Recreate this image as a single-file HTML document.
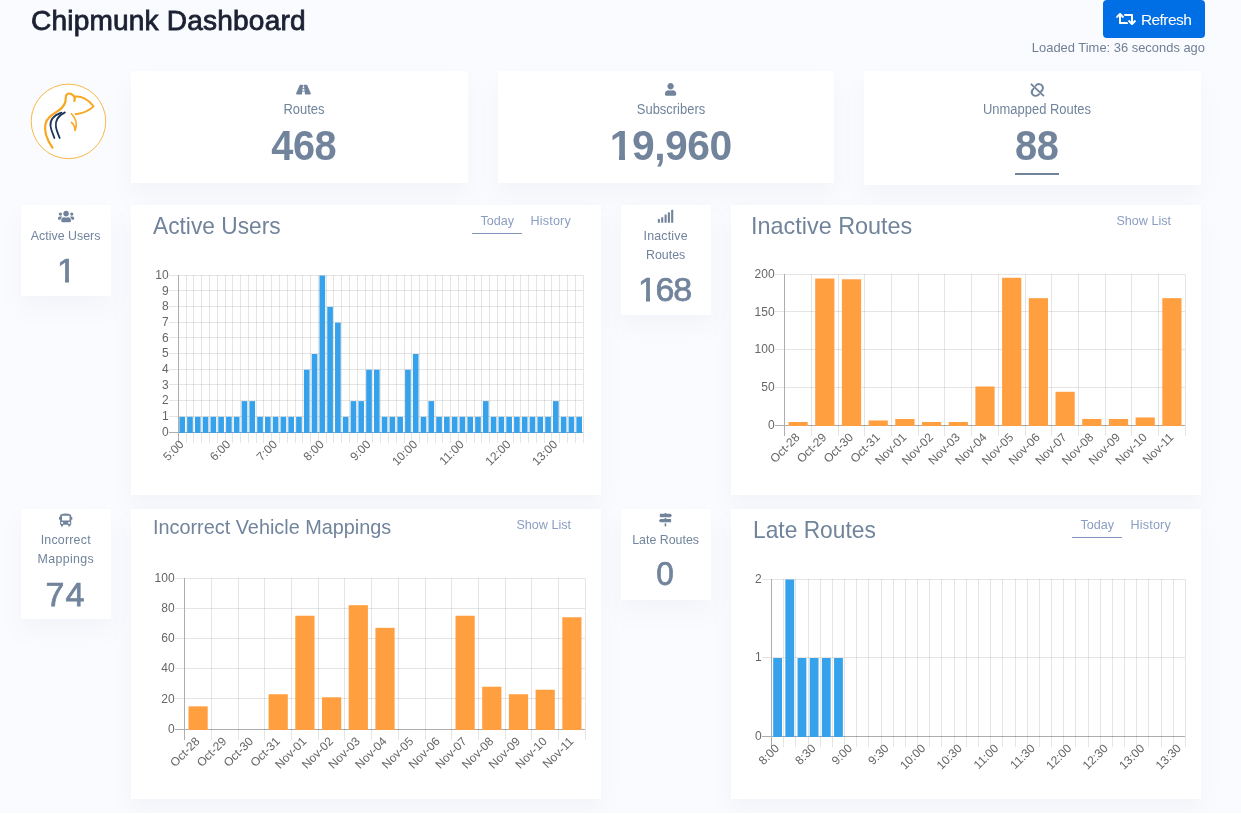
<!DOCTYPE html>
<html lang="en"><head><meta charset="utf-8"><title>Chipmunk Dashboard</title>
<style>
html,body{margin:0;padding:0}
body{width:1241px;height:814px;overflow:hidden;background:#fafbfe;font-family:"Liberation Sans", sans-serif;position:relative}
.card{position:absolute;background:#fff;box-shadow:0 12px 22px 0 rgba(120,132,165,.055)}
.t{position:absolute}
.ic{position:absolute;overflow:visible}
svg text{font-family:"Liberation Sans", sans-serif}
.btn{position:absolute;left:1103px;top:0;width:101.5px;height:38px;background:#006fe6;border-radius:4px}
</style></head><body>

<div class="t" style="position:absolute;top:7.41px;font-size:28.1px;line-height:1;color:#1b2033;white-space:nowrap;letter-spacing:0.17px;left:31.00px;-webkit-text-stroke:0.8px #1b2033;">Chipmunk Dashboard</div>
<div class="btn"></div>
<div class="t" style="position:absolute;top:12.18px;font-size:15.5px;line-height:1;color:#fff;white-space:nowrap;letter-spacing:-0.55px;left:1140.90px;">Refresh</div>
<svg class="ic" style="left:1116px;top:11px" width="20" height="16" viewBox="0 0 640 512"><path fill="#fff" d="M629.657 343.598L528.971 444.284c-9.373 9.372-24.568 9.372-33.941 0L394.343 343.598c-9.373-9.373-9.373-24.569 0-33.941l10.823-10.823c9.562-9.562 25.133-9.340 34.419.492L480 342.118V160H292.451a24.005 24.005 0 0 1-16.971-7.029l-16-16C244.361 121.851 255.069 96 276.451 96H520c13.255 0 24 10.745 24 24v222.118l40.416-42.792c9.285-9.831 24.856-10.054 34.419-.492l10.823 10.823c9.372 9.372 9.372 24.569-.001 33.941zm-265.138 15.431A23.999 23.999 0 0 0 347.548 352H160V169.881l40.416 42.792c9.286 9.831 24.856 10.054 34.419.491l10.822-10.822c9.373-9.373 9.373-24.569 0-33.941L144.971 67.716c-9.373-9.373-24.569-9.373-33.941 0L10.343 168.402c-9.373 9.373-9.373 24.569 0 33.941l10.822 10.822c9.562 9.562 25.133 9.340 34.419-.491L96 169.881V392c0 13.255 10.745 24 24 24h243.549c21.382 0 32.090-25.851 16.971-40.971l-16.001-16z"/></svg>
<div class="t" style="position:absolute;top:42.05px;font-size:12.93px;line-height:1;color:#6f7f95;white-space:nowrap;left:605.00px;width:600px;text-align:right;">Loaded Time: 36 seconds ago</div>
<svg class="ic" style="left:20px;top:75px" width="100" height="95" viewBox="0 0 857 814">
<circle cx="415.500" cy="397.500" r="319.500" fill="#fff" stroke="#f6a823" stroke-width="7"/>
<path d="M278 622 C235 560 205 480 218 420 C232 362 285 335 330 305 C375 275 395 240 392 195 C390 165 412 152 438 162 C462 172 474 195 466 222" fill="none" stroke="#f6a823" stroke-width="19" stroke-linecap="round"/>
<path d="M468 186 C520 176 585 205 630 268 C600 300 545 325 476 336" fill="none" stroke="#f6a823" stroke-width="16" stroke-linecap="round" stroke-linejoin="round"/>
<path d="M440 332 C475 365 495 415 472 475 C470 445 458 420 440 406" fill="none" stroke="#f6a823" stroke-width="14" stroke-linecap="round" stroke-linejoin="round"/>
<path d="M355 322 C290 345 255 385 262 440 C268 480 285 510 295 540" fill="none" stroke="#1b3358" stroke-width="15" stroke-linecap="round"/>
<path d="M385 320 C325 350 300 395 308 445 C314 485 330 510 340 540" fill="none" stroke="#1b3358" stroke-width="15" stroke-linecap="round"/>
</svg>
<div class="card" style="left:131px;top:71px;width:336.67px;height:112px"></div>
<div class="t" style="position:absolute;top:102.45px;font-size:14.0px;line-height:1;color:#71849c;white-space:nowrap;left:3.50px;width:600px;text-align:center;transform:scaleX(0.925);">Routes</div>
<div class="t" style="position:absolute;top:125.82px;font-size:41.2px;line-height:1;color:#71849c;white-space:nowrap;font-weight:700;letter-spacing:-0.5px;left:3.50px;width:600px;text-align:center;text-indent:-0.5px;transform:scale(0.965,1.04);transform-origin:50% 84.65%;">468</div>
<div class="card" style="left:497.67px;top:71px;width:336.67px;height:112px"></div>
<div class="t" style="position:absolute;top:102.45px;font-size:14.0px;line-height:1;color:#71849c;white-space:nowrap;left:370.50px;width:600px;text-align:center;transform:scaleX(0.925);">Subscribers</div>
<div class="t" style="position:absolute;top:125.82px;font-size:41.2px;line-height:1;color:#71849c;white-space:nowrap;font-weight:700;letter-spacing:-0.5px;left:370.50px;width:600px;text-align:center;text-indent:-0.5px;transform:scale(0.99,1.04);transform-origin:50% 84.65%;">19,960</div>
<div class="card" style="left:864.33px;top:71px;width:336.67px;height:114px"></div>
<div class="t" style="position:absolute;top:102.45px;font-size:14.0px;line-height:1;color:#71849c;white-space:nowrap;left:737.00px;width:600px;text-align:center;transform:scaleX(0.925);">Unmapped Routes</div>
<div class="t" style="position:absolute;top:125.82px;font-size:41.2px;line-height:1;color:#71849c;white-space:nowrap;font-weight:700;letter-spacing:-0.5px;left:737.00px;width:600px;text-align:center;text-indent:-0.5px;transform:scale(0.965,1.04);transform-origin:50% 84.65%;">88</div>
<svg class="ic" style="left:296.2px;top:83.3px" width="14.9" height="13.1" viewBox="0 0 576 512"><path fill="#71849c" d="M573.19 402.67l-139.79-320C428.43 71.29 417.6 64 405.68 64h-97.59l2.450 23.160c.5 4.720-3.210 8.840-7.960 8.840h-29.160c-4.750 0-8.460-4.120-7.960-8.840L267.910 64h-97.590c-11.930 0-22.760 7.290-27.730 18.670L2.800 402.670C-6.450 423.860 8.310 448 30.540 448h196.840l10.310-97.680c.860-8.140 7.720-14.320 15.910-14.320h68.800c8.190 0 15.050 6.180 15.910 14.320L348.620 448h196.840c22.230 0 36.990-24.140 27.730-45.330zM260.400 135.160a8 8 0 0 1 7.960-7.160h39.290c4.090 0 7.530 3.090 7.960 7.160l4.600 43.580c.75 7.090-4.810 13.260-11.930 13.260h-40.540c-7.130 0-12.680-6.170-11.930-13.260l4.590-43.580zM315.640 304h-55.290c-9.500 0-16.910-8.230-15.910-17.680l5.070-48c.860-8.140 7.720-14.320 15.910-14.320h45.150c8.190 0 15.050 6.180 15.910 14.320l5.070 48c1 9.450-6.410 17.680-15.910 17.680z"/></svg>
<svg class="ic" style="left:664.9px;top:83.3px" width="11.2" height="12.8" viewBox="0 0 448 512"><path fill="#71849c" d="M224 256c70.7 0 128-57.3 128-128S294.7 0 224 0 96 57.3 96 128s57.3 128 128 128zm89.6 32h-16.7c-22.2 10.2-46.9 16-72.9 16s-50.6-5.8-72.900-16h-16.700C60.200 288 0 348.200 0 422.400V464c0 26.500 21.500 48 48 48h352c26.500 0 48-21.500 48-48v-41.600c0-74.200-60.200-134.400-134.400-134.400z"/></svg>
<svg class="ic" style="left:1029px;top:82px" width="17" height="16" viewBox="310 114 277 260"><g fill="none" stroke="#71849c" stroke-width="31" stroke-linecap="round"><path d="M350 152 L545 335"/><path d="M420 175 C450 135 510 140 530 180 C548 215 530 245 505 268"/><path d="M475 312 C445 350 385 348 362 310 C342 275 360 245 385 222"/></g></svg>
<div style="position:absolute;left:610px;top:154.3px;width:8.7px;height:7px;background:#fff"></div><div style="position:absolute;left:625px;top:154.3px;width:7.5px;height:7px;background:#fff"></div>
<div style="position:absolute;left:1015px;top:172.500px;width:44px;height:2px;background:#71849c"></div>
<div class="card" style="left:21px;top:205px;width:90px;height:91px"></div>
<div class="card" style="left:621px;top:205px;width:90px;height:110px"></div>
<div class="card" style="left:21px;top:509px;width:90px;height:110px"></div>
<div class="card" style="left:621px;top:509px;width:90px;height:91px"></div>
<div class="card" style="left:131px;top:205px;width:470px;height:290px"></div>
<div class="card" style="left:731px;top:205px;width:470px;height:290px"></div>
<div class="card" style="left:131px;top:509px;width:470px;height:290px"></div>
<div class="card" style="left:731px;top:509px;width:470px;height:290px"></div>
<svg class="ic" style="left:57.6px;top:209.5px" width="16.2" height="12.96" viewBox="0 0 640 512"><path fill="#71849c" d="M96 224c35.3 0 64-28.7 64-64s-28.7-64-64-64-64 28.7-64 64 28.7 64 64 64zm448 0c35.3 0 64-28.7 64-64s-28.7-64-64-64-64 28.7-64 64 28.7 64 64 64zm32 32h-64c-17.6 0-33.5 7.1-45.1 18.6 40.3 22.1 68.9 62 75.1 109.4h66c17.7 0 32-14.3 32-32v-32c0-35.3-28.7-64-64-64zm-256 0c61.9 0 112-50.1 112-112S381.9 32 320 32 208 82.1 208 144s50.1 112 112 112zm76.8 32h-8.3c-20.8 10-43.9 16-68.5 16s-47.6-6-68.5-16h-8.3C179.6 288 128 339.6 128 403.2V432c0 26.5 21.5 48 48 48h288c26.5 0 48-21.5 48-48v-28.8c0-63.6-51.6-115.2-115.2-115.2zm-223.7-13.4C161.5 263.1 145.6 256 128 256H64c-35.3 0-64 28.7-64 64v32c0 17.7 14.3 32 32 32h65.900c6.300-47.400 34.900-87.300 75.200-109.400z"/></svg>
<div class="t" style="position:absolute;top:229.80px;font-size:12.4px;line-height:1;color:#71849c;white-space:nowrap;left:-234.40px;width:600px;text-align:center;">Active Users</div>
<div class="t" style="position:absolute;top:252.92px;font-size:34px;line-height:1;color:#71849c;white-space:nowrap;left:-233.50px;width:600px;text-align:center;-webkit-text-stroke:0.75px #71849c;">1</div>
<div style="position:absolute;left:56px;top:278.4px;width:9px;height:6px;background:#fff"></div><div style="position:absolute;left:69px;top:278.4px;width:9px;height:6px;background:#fff"></div>
<svg class="ic" style="left:657px;top:209px" width="18" height="15" viewBox="657 209 18 15"><g fill="#71849c"><rect x="657.85" y="219.1" width="2.1" height="3.70" rx="0.4"/><rect x="661.15" y="217.2" width="2.1" height="5.60" rx="0.4"/><rect x="664.55" y="214.4" width="2.1" height="8.40" rx="0.4"/><rect x="667.85" y="212.3" width="2.1" height="10.50" rx="0.4"/><rect x="671.15" y="209.7" width="2.1" height="13.10" rx="0.4"/></g></svg>
<div class="t" style="position:absolute;top:229.80px;font-size:12.4px;line-height:1;color:#71849c;white-space:nowrap;letter-spacing:0.18px;left:365.60px;width:600px;text-align:center;text-indent:0.18px;">Inactive</div>
<div class="t" style="position:absolute;top:249.00px;font-size:12.4px;line-height:1;color:#71849c;white-space:nowrap;left:365.60px;width:600px;text-align:center;">Routes</div>
<div class="t" style="position:absolute;top:271.72px;font-size:34px;line-height:1;color:#71849c;white-space:nowrap;letter-spacing:-1.3px;left:365.00px;width:600px;text-align:center;text-indent:-1.3px;-webkit-text-stroke:0.75px #71849c;">168</div>
<div style="position:absolute;left:638px;top:297.400px;width:8px;height:6px;background:#fff"></div><div style="position:absolute;left:650px;top:297.400px;width:7px;height:6px;background:#fff"></div>
<svg class="ic" style="left:58.9px;top:513.2px" width="13.3" height="13.5" viewBox="440 190 310 315"><path fill="#71849c" fill-rule="evenodd" d="M465 250 Q465 205 595 200 Q725 205 725 250 L725 285 L750 285 L750 345 L725 345 L725 465 L705 465 L705 490 Q705 505 690 505 L670 505 Q655 505 655 490 L655 465 L535 465 L535 490 Q535 505 520 505 L500 505 Q485 505 485 490 L485 465 L465 465 L465 345 L440 345 L440 285 L465 285 Z M510 255 L510 365 L685 365 L685 255 Z M490 400 L490 440 L535 440 L535 400 Z M655 400 L655 440 L700 440 L700 400 Z"/></svg>
<div class="t" style="position:absolute;top:533.80px;font-size:12.4px;line-height:1;color:#71849c;white-space:nowrap;letter-spacing:0.22px;left:-234.40px;width:600px;text-align:center;text-indent:0.22px;">Incorrect</div>
<div class="t" style="position:absolute;top:553.00px;font-size:12.4px;line-height:1;color:#71849c;white-space:nowrap;letter-spacing:0.36px;left:-234.40px;width:600px;text-align:center;text-indent:0.36px;">Mappings</div>
<div class="t" style="position:absolute;top:576.92px;font-size:34px;line-height:1;color:#71849c;white-space:nowrap;letter-spacing:1.0px;left:-235.00px;width:600px;text-align:center;text-indent:1.0px;-webkit-text-stroke:0.75px #71849c;">74</div>
<svg class="ic" style="left:659.1px;top:513.2px" width="12.9" height="13.5" viewBox="0 0 512 512" preserveAspectRatio="none"><path fill="#71849c" d="M507.31 84.69L464 41.37c-6-6-14.140-9.370-22.630-9.370H288V16c0-8.840-7.160-16-16-16h-32c-8.840 0-16 7.160-16 16v16H56c-13.250 0-24 10.750-24 24v80c0 13.250 10.750 24 24 24h385.370c8.490 0 16.620-3.370 22.630-9.370l43.310-43.310c6.250-6.260 6.250-16.390 0-22.630zM224 496c0 8.840 7.160 16 16 16h32c8.840 0 16-7.160 16-16V384h-64v112zm232-272H288v-32h-64v32H70.630c-8.490 0-16.620 3.370-22.630 9.370L4.690 276.690c-6.250 6.250-6.250 16.380 0 22.630L48 342.630c6 6 14.140 9.370 22.630 9.370H456c13.250 0 24-10.750 24-24v-80c0-13.250-10.750-24-24-24z"/></svg>
<div class="t" style="position:absolute;top:533.80px;font-size:12.4px;line-height:1;color:#71849c;white-space:nowrap;left:365.60px;width:600px;text-align:center;">Late Routes</div>
<div class="t" style="position:absolute;top:556.12px;font-size:34px;line-height:1;color:#71849c;white-space:nowrap;left:365.00px;width:600px;text-align:center;-webkit-text-stroke:0.75px #71849c;transform:scaleX(0.93);">0</div>
<div class="t" style="position:absolute;top:215.02px;font-size:23.6px;line-height:1;color:#71849c;white-space:nowrap;left:153.00px;transform:scaleX(0.964);transform-origin:0 0;">Active Users</div>
<div class="t" style="position:absolute;top:215.02px;font-size:23.6px;line-height:1;color:#71849c;white-space:nowrap;left:751.00px;transform:scaleX(0.992);transform-origin:0 0;">Inactive Routes</div>
<div class="t" style="position:absolute;top:517.80px;font-size:19.85px;line-height:1;color:#71849c;white-space:nowrap;left:153.00px;">Incorrect Vehicle Mappings</div>
<div class="t" style="position:absolute;top:518.72px;font-size:23.6px;line-height:1;color:#71849c;white-space:nowrap;left:752.70px;transform:scaleX(0.965);transform-origin:0 0;">Late Routes</div>
<div class="t" style="position:absolute;top:215.03px;font-size:12.6px;line-height:1;color:#8a9dc2;white-space:nowrap;letter-spacing:0.2px;left:-29.00px;width:600px;text-align:right;">History</div>
<div class="t" style="position:absolute;top:215.03px;font-size:12.6px;line-height:1;color:#8a9dc2;white-space:nowrap;left:-86.00px;width:600px;text-align:right;">Today</div>
<div style="position:absolute;left:472px;top:232.7px;width:50px;height:1.5px;background:#7f95bd"></div>
<div class="t" style="position:absolute;top:519.03px;font-size:12.6px;line-height:1;color:#8a9dc2;white-space:nowrap;letter-spacing:0.2px;left:571.00px;width:600px;text-align:right;">History</div>
<div class="t" style="position:absolute;top:519.03px;font-size:12.6px;line-height:1;color:#8a9dc2;white-space:nowrap;left:514.00px;width:600px;text-align:right;">Today</div>
<div style="position:absolute;left:1072px;top:536.7px;width:50px;height:1.5px;background:#7f95bd"></div>
<div class="t" style="position:absolute;top:215.03px;font-size:12.6px;line-height:1;color:#8a9dc2;white-space:nowrap;left:571.00px;width:600px;text-align:right;">Show List</div>
<div class="t" style="position:absolute;top:519.03px;font-size:12.6px;line-height:1;color:#8a9dc2;white-space:nowrap;left:-29.00px;width:600px;text-align:right;">Show List</div>
<svg class="ic" style="left:0;top:0" width="1241" height="814" viewBox="0 0 1241 814">
<g shape-rendering="crispEdges">
<line x1="169" y1="432.5" x2="178.3" y2="432.5" stroke="#adadad"/>
<line x1="178.3" y1="432.5" x2="583.2" y2="432.5" stroke="#adadad"/>
<line x1="169" y1="416.5" x2="583.2" y2="416.5" stroke="rgba(0,0,0,0.1)"/>
<line x1="169" y1="400.5" x2="583.2" y2="400.5" stroke="rgba(0,0,0,0.1)"/>
<line x1="169" y1="384.5" x2="583.2" y2="384.5" stroke="rgba(0,0,0,0.1)"/>
<line x1="169" y1="369.5" x2="583.2" y2="369.5" stroke="rgba(0,0,0,0.1)"/>
<line x1="169" y1="353.5" x2="583.2" y2="353.5" stroke="rgba(0,0,0,0.1)"/>
<line x1="169" y1="337.5" x2="583.2" y2="337.5" stroke="rgba(0,0,0,0.1)"/>
<line x1="169" y1="322.5" x2="583.2" y2="322.5" stroke="rgba(0,0,0,0.1)"/>
<line x1="169" y1="306.5" x2="583.2" y2="306.5" stroke="rgba(0,0,0,0.1)"/>
<line x1="169" y1="290.5" x2="583.2" y2="290.5" stroke="rgba(0,0,0,0.1)"/>
<line x1="169" y1="275.5" x2="583.2" y2="275.5" stroke="rgba(0,0,0,0.1)"/>
<line x1="178.5" y1="275" x2="178.5" y2="443" stroke="#adadad"/>
<line x1="186.5" y1="275" x2="186.5" y2="443" stroke="rgba(0,0,0,0.1)"/>
<line x1="193.5" y1="275" x2="193.5" y2="443" stroke="rgba(0,0,0,0.1)"/>
<line x1="201.5" y1="275" x2="201.5" y2="443" stroke="rgba(0,0,0,0.1)"/>
<line x1="209.5" y1="275" x2="209.5" y2="443" stroke="rgba(0,0,0,0.1)"/>
<line x1="217.5" y1="275" x2="217.5" y2="443" stroke="rgba(0,0,0,0.1)"/>
<line x1="225.5" y1="275" x2="225.5" y2="443" stroke="rgba(0,0,0,0.1)"/>
<line x1="232.5" y1="275" x2="232.5" y2="443" stroke="rgba(0,0,0,0.1)"/>
<line x1="240.5" y1="275" x2="240.5" y2="443" stroke="rgba(0,0,0,0.1)"/>
<line x1="248.5" y1="275" x2="248.5" y2="443" stroke="rgba(0,0,0,0.1)"/>
<line x1="256.5" y1="275" x2="256.5" y2="443" stroke="rgba(0,0,0,0.1)"/>
<line x1="263.5" y1="275" x2="263.5" y2="443" stroke="rgba(0,0,0,0.1)"/>
<line x1="271.5" y1="275" x2="271.5" y2="443" stroke="rgba(0,0,0,0.1)"/>
<line x1="279.5" y1="275" x2="279.5" y2="443" stroke="rgba(0,0,0,0.1)"/>
<line x1="287.5" y1="275" x2="287.5" y2="443" stroke="rgba(0,0,0,0.1)"/>
<line x1="295.5" y1="275" x2="295.5" y2="443" stroke="rgba(0,0,0,0.1)"/>
<line x1="302.5" y1="275" x2="302.5" y2="443" stroke="rgba(0,0,0,0.1)"/>
<line x1="310.5" y1="275" x2="310.5" y2="443" stroke="rgba(0,0,0,0.1)"/>
<line x1="318.5" y1="275" x2="318.5" y2="443" stroke="rgba(0,0,0,0.1)"/>
<line x1="326.5" y1="275" x2="326.5" y2="443" stroke="rgba(0,0,0,0.1)"/>
<line x1="333.5" y1="275" x2="333.5" y2="443" stroke="rgba(0,0,0,0.1)"/>
<line x1="341.5" y1="275" x2="341.5" y2="443" stroke="rgba(0,0,0,0.1)"/>
<line x1="349.5" y1="275" x2="349.5" y2="443" stroke="rgba(0,0,0,0.1)"/>
<line x1="357.5" y1="275" x2="357.5" y2="443" stroke="rgba(0,0,0,0.1)"/>
<line x1="365.5" y1="275" x2="365.5" y2="443" stroke="rgba(0,0,0,0.1)"/>
<line x1="372.5" y1="275" x2="372.5" y2="443" stroke="rgba(0,0,0,0.1)"/>
<line x1="380.5" y1="275" x2="380.5" y2="443" stroke="rgba(0,0,0,0.1)"/>
<line x1="388.5" y1="275" x2="388.5" y2="443" stroke="rgba(0,0,0,0.1)"/>
<line x1="396.5" y1="275" x2="396.5" y2="443" stroke="rgba(0,0,0,0.1)"/>
<line x1="404.5" y1="275" x2="404.5" y2="443" stroke="rgba(0,0,0,0.1)"/>
<line x1="411.5" y1="275" x2="411.5" y2="443" stroke="rgba(0,0,0,0.1)"/>
<line x1="419.5" y1="275" x2="419.5" y2="443" stroke="rgba(0,0,0,0.1)"/>
<line x1="427.5" y1="275" x2="427.5" y2="443" stroke="rgba(0,0,0,0.1)"/>
<line x1="435.5" y1="275" x2="435.5" y2="443" stroke="rgba(0,0,0,0.1)"/>
<line x1="442.5" y1="275" x2="442.5" y2="443" stroke="rgba(0,0,0,0.1)"/>
<line x1="450.5" y1="275" x2="450.5" y2="443" stroke="rgba(0,0,0,0.1)"/>
<line x1="458.5" y1="275" x2="458.5" y2="443" stroke="rgba(0,0,0,0.1)"/>
<line x1="466.5" y1="275" x2="466.5" y2="443" stroke="rgba(0,0,0,0.1)"/>
<line x1="474.5" y1="275" x2="474.5" y2="443" stroke="rgba(0,0,0,0.1)"/>
<line x1="481.5" y1="275" x2="481.5" y2="443" stroke="rgba(0,0,0,0.1)"/>
<line x1="489.5" y1="275" x2="489.5" y2="443" stroke="rgba(0,0,0,0.1)"/>
<line x1="497.5" y1="275" x2="497.5" y2="443" stroke="rgba(0,0,0,0.1)"/>
<line x1="505.5" y1="275" x2="505.5" y2="443" stroke="rgba(0,0,0,0.1)"/>
<line x1="513.5" y1="275" x2="513.5" y2="443" stroke="rgba(0,0,0,0.1)"/>
<line x1="520.5" y1="275" x2="520.5" y2="443" stroke="rgba(0,0,0,0.1)"/>
<line x1="528.5" y1="275" x2="528.5" y2="443" stroke="rgba(0,0,0,0.1)"/>
<line x1="536.5" y1="275" x2="536.5" y2="443" stroke="rgba(0,0,0,0.1)"/>
<line x1="544.5" y1="275" x2="544.5" y2="443" stroke="rgba(0,0,0,0.1)"/>
<line x1="551.5" y1="275" x2="551.5" y2="443" stroke="rgba(0,0,0,0.1)"/>
<line x1="559.5" y1="275" x2="559.5" y2="443" stroke="rgba(0,0,0,0.1)"/>
<line x1="567.5" y1="275" x2="567.5" y2="443" stroke="rgba(0,0,0,0.1)"/>
<line x1="575.5" y1="275" x2="575.5" y2="443" stroke="rgba(0,0,0,0.1)"/>
<line x1="583.5" y1="275" x2="583.5" y2="443" stroke="rgba(0,0,0,0.1)"/>
</g>
<rect x="179.37" y="416.80" width="5.65" height="16.20" fill="#36a2eb"/>
<rect x="187.15" y="416.80" width="5.65" height="16.20" fill="#36a2eb"/>
<rect x="194.94" y="416.80" width="5.65" height="16.20" fill="#36a2eb"/>
<rect x="202.72" y="416.80" width="5.65" height="16.20" fill="#36a2eb"/>
<rect x="210.50" y="416.80" width="5.65" height="16.20" fill="#36a2eb"/>
<rect x="218.29" y="416.80" width="5.65" height="16.20" fill="#36a2eb"/>
<rect x="226.07" y="416.80" width="5.65" height="16.20" fill="#36a2eb"/>
<rect x="233.86" y="416.80" width="5.65" height="16.20" fill="#36a2eb"/>
<rect x="241.64" y="401.10" width="5.65" height="31.90" fill="#36a2eb"/>
<rect x="249.42" y="401.10" width="5.65" height="31.90" fill="#36a2eb"/>
<rect x="257.21" y="416.80" width="5.65" height="16.20" fill="#36a2eb"/>
<rect x="264.99" y="416.80" width="5.65" height="16.20" fill="#36a2eb"/>
<rect x="272.78" y="416.80" width="5.65" height="16.20" fill="#36a2eb"/>
<rect x="280.56" y="416.80" width="5.65" height="16.20" fill="#36a2eb"/>
<rect x="288.34" y="416.80" width="5.65" height="16.20" fill="#36a2eb"/>
<rect x="296.13" y="416.80" width="5.65" height="16.20" fill="#36a2eb"/>
<rect x="303.91" y="369.70" width="5.65" height="63.30" fill="#36a2eb"/>
<rect x="311.70" y="354.00" width="5.65" height="79.00" fill="#36a2eb"/>
<rect x="319.48" y="275.50" width="5.65" height="157.50" fill="#36a2eb"/>
<rect x="327.26" y="306.90" width="5.65" height="126.10" fill="#36a2eb"/>
<rect x="335.05" y="322.60" width="5.65" height="110.40" fill="#36a2eb"/>
<rect x="342.83" y="416.80" width="5.65" height="16.20" fill="#36a2eb"/>
<rect x="350.62" y="401.10" width="5.65" height="31.90" fill="#36a2eb"/>
<rect x="358.40" y="401.10" width="5.65" height="31.90" fill="#36a2eb"/>
<rect x="366.18" y="369.70" width="5.65" height="63.30" fill="#36a2eb"/>
<rect x="373.97" y="369.70" width="5.65" height="63.30" fill="#36a2eb"/>
<rect x="381.75" y="416.80" width="5.65" height="16.20" fill="#36a2eb"/>
<rect x="389.54" y="416.80" width="5.65" height="16.20" fill="#36a2eb"/>
<rect x="397.32" y="416.80" width="5.65" height="16.20" fill="#36a2eb"/>
<rect x="405.10" y="369.70" width="5.65" height="63.30" fill="#36a2eb"/>
<rect x="412.89" y="354.00" width="5.65" height="79.00" fill="#36a2eb"/>
<rect x="420.67" y="416.80" width="5.65" height="16.20" fill="#36a2eb"/>
<rect x="428.46" y="401.10" width="5.65" height="31.90" fill="#36a2eb"/>
<rect x="436.24" y="416.80" width="5.65" height="16.20" fill="#36a2eb"/>
<rect x="444.02" y="416.80" width="5.65" height="16.20" fill="#36a2eb"/>
<rect x="451.81" y="416.80" width="5.65" height="16.20" fill="#36a2eb"/>
<rect x="459.59" y="416.80" width="5.65" height="16.20" fill="#36a2eb"/>
<rect x="467.38" y="416.80" width="5.65" height="16.20" fill="#36a2eb"/>
<rect x="475.16" y="416.80" width="5.65" height="16.20" fill="#36a2eb"/>
<rect x="482.94" y="401.10" width="5.65" height="31.90" fill="#36a2eb"/>
<rect x="490.73" y="416.80" width="5.65" height="16.20" fill="#36a2eb"/>
<rect x="498.51" y="416.80" width="5.65" height="16.20" fill="#36a2eb"/>
<rect x="506.30" y="416.80" width="5.65" height="16.20" fill="#36a2eb"/>
<rect x="514.08" y="416.80" width="5.65" height="16.20" fill="#36a2eb"/>
<rect x="521.86" y="416.80" width="5.65" height="16.20" fill="#36a2eb"/>
<rect x="529.65" y="416.80" width="5.65" height="16.20" fill="#36a2eb"/>
<rect x="537.43" y="416.80" width="5.65" height="16.20" fill="#36a2eb"/>
<rect x="545.22" y="416.80" width="5.65" height="16.20" fill="#36a2eb"/>
<rect x="553.00" y="401.10" width="5.65" height="31.90" fill="#36a2eb"/>
<rect x="560.78" y="416.80" width="5.65" height="16.20" fill="#36a2eb"/>
<rect x="568.57" y="416.80" width="5.65" height="16.20" fill="#36a2eb"/>
<rect x="576.35" y="416.80" width="5.65" height="16.20" fill="#36a2eb"/>
<g font-size="12" fill="#666" text-anchor="end">
<text x="168.6" y="435.80">0</text>
<text x="168.6" y="420.10">1</text>
<text x="168.6" y="404.40">2</text>
<text x="168.6" y="388.70">3</text>
<text x="168.6" y="373.00">4</text>
<text x="168.6" y="357.30">5</text>
<text x="168.6" y="341.60">6</text>
<text x="168.6" y="325.90">7</text>
<text x="168.6" y="310.20">8</text>
<text x="168.6" y="294.50">9</text>
<text x="168.6" y="278.80">10</text>
</g>
<g font-size="12" fill="#666" text-anchor="end">
<text transform="translate(181.69,442.20) rotate(-45)" x="0" y="4.1">5:00</text>
<text transform="translate(228.40,442.20) rotate(-45)" x="0" y="4.1">6:00</text>
<text transform="translate(275.10,442.20) rotate(-45)" x="0" y="4.1">7:00</text>
<text transform="translate(321.80,442.20) rotate(-45)" x="0" y="4.1">8:00</text>
<text transform="translate(368.51,442.20) rotate(-45)" x="0" y="4.1">9:00</text>
<text transform="translate(415.21,442.20) rotate(-45)" x="0" y="4.1">10:00</text>
<text transform="translate(461.92,442.20) rotate(-45)" x="0" y="4.1">11:00</text>
<text transform="translate(508.62,442.20) rotate(-45)" x="0" y="4.1">12:00</text>
<text transform="translate(555.33,442.20) rotate(-45)" x="0" y="4.1">13:00</text>
</g>
<g shape-rendering="crispEdges">
<line x1="775" y1="425.5" x2="784.75" y2="425.5" stroke="#adadad"/>
<line x1="784.75" y1="425.5" x2="1185.2" y2="425.5" stroke="#adadad"/>
<line x1="775" y1="387.5" x2="1185.2" y2="387.5" stroke="rgba(0,0,0,0.1)"/>
<line x1="775" y1="349.5" x2="1185.2" y2="349.5" stroke="rgba(0,0,0,0.1)"/>
<line x1="775" y1="311.5" x2="1185.2" y2="311.5" stroke="rgba(0,0,0,0.1)"/>
<line x1="775" y1="274.5" x2="1185.2" y2="274.5" stroke="rgba(0,0,0,0.1)"/>
<line x1="784.5" y1="274" x2="784.5" y2="436" stroke="#adadad"/>
<line x1="811.5" y1="274" x2="811.5" y2="436" stroke="rgba(0,0,0,0.1)"/>
<line x1="838.5" y1="274" x2="838.5" y2="436" stroke="rgba(0,0,0,0.1)"/>
<line x1="864.5" y1="274" x2="864.5" y2="436" stroke="rgba(0,0,0,0.1)"/>
<line x1="891.5" y1="274" x2="891.5" y2="436" stroke="rgba(0,0,0,0.1)"/>
<line x1="918.5" y1="274" x2="918.5" y2="436" stroke="rgba(0,0,0,0.1)"/>
<line x1="944.5" y1="274" x2="944.5" y2="436" stroke="rgba(0,0,0,0.1)"/>
<line x1="971.5" y1="274" x2="971.5" y2="436" stroke="rgba(0,0,0,0.1)"/>
<line x1="998.5" y1="274" x2="998.5" y2="436" stroke="rgba(0,0,0,0.1)"/>
<line x1="1025.5" y1="274" x2="1025.5" y2="436" stroke="rgba(0,0,0,0.1)"/>
<line x1="1051.5" y1="274" x2="1051.5" y2="436" stroke="rgba(0,0,0,0.1)"/>
<line x1="1078.5" y1="274" x2="1078.5" y2="436" stroke="rgba(0,0,0,0.1)"/>
<line x1="1105.5" y1="274" x2="1105.5" y2="436" stroke="rgba(0,0,0,0.1)"/>
<line x1="1131.5" y1="274" x2="1131.5" y2="436" stroke="rgba(0,0,0,0.1)"/>
<line x1="1158.5" y1="274" x2="1158.5" y2="436" stroke="rgba(0,0,0,0.1)"/>
<line x1="1185.5" y1="274" x2="1185.5" y2="436" stroke="rgba(0,0,0,0.1)"/>
</g>
<rect x="788.50" y="421.98" width="19.20" height="4.02" fill="#ff9f40"/>
<rect x="815.20" y="278.53" width="19.20" height="147.47" fill="#ff9f40"/>
<rect x="841.90" y="279.28" width="19.20" height="146.72" fill="#ff9f40"/>
<rect x="868.60" y="420.47" width="19.20" height="5.53" fill="#ff9f40"/>
<rect x="895.30" y="418.96" width="19.20" height="7.04" fill="#ff9f40"/>
<rect x="922.00" y="421.98" width="19.20" height="4.02" fill="#ff9f40"/>
<rect x="948.70" y="421.98" width="19.20" height="4.02" fill="#ff9f40"/>
<rect x="975.40" y="386.50" width="19.20" height="39.50" fill="#ff9f40"/>
<rect x="1002.10" y="277.77" width="19.20" height="148.23" fill="#ff9f40"/>
<rect x="1028.80" y="298.16" width="19.20" height="127.84" fill="#ff9f40"/>
<rect x="1055.50" y="391.78" width="19.20" height="34.22" fill="#ff9f40"/>
<rect x="1082.20" y="418.96" width="19.20" height="7.04" fill="#ff9f40"/>
<rect x="1108.90" y="418.96" width="19.20" height="7.04" fill="#ff9f40"/>
<rect x="1135.60" y="417.45" width="19.20" height="8.55" fill="#ff9f40"/>
<rect x="1162.30" y="298.16" width="19.20" height="127.84" fill="#ff9f40"/>
<g font-size="12" fill="#666" text-anchor="end">
<text x="774.6" y="428.80">0</text>
<text x="774.6" y="391.05">50</text>
<text x="774.6" y="353.30">100</text>
<text x="774.6" y="315.55">150</text>
<text x="774.6" y="277.80">200</text>
</g>
<g font-size="12" fill="#666" text-anchor="end">
<text transform="translate(797.60,435.20) rotate(-45)" x="0" y="4.1">Oct-28</text>
<text transform="translate(824.30,435.20) rotate(-45)" x="0" y="4.1">Oct-29</text>
<text transform="translate(851.00,435.20) rotate(-45)" x="0" y="4.1">Oct-30</text>
<text transform="translate(877.70,435.20) rotate(-45)" x="0" y="4.1">Oct-31</text>
<text transform="translate(904.40,435.20) rotate(-45)" x="0" y="4.1">Nov-01</text>
<text transform="translate(931.10,435.20) rotate(-45)" x="0" y="4.1">Nov-02</text>
<text transform="translate(957.80,435.20) rotate(-45)" x="0" y="4.1">Nov-03</text>
<text transform="translate(984.50,435.20) rotate(-45)" x="0" y="4.1">Nov-04</text>
<text transform="translate(1011.20,435.20) rotate(-45)" x="0" y="4.1">Nov-05</text>
<text transform="translate(1037.90,435.20) rotate(-45)" x="0" y="4.1">Nov-06</text>
<text transform="translate(1064.60,435.20) rotate(-45)" x="0" y="4.1">Nov-07</text>
<text transform="translate(1091.30,435.20) rotate(-45)" x="0" y="4.1">Nov-08</text>
<text transform="translate(1118.00,435.20) rotate(-45)" x="0" y="4.1">Nov-09</text>
<text transform="translate(1144.70,435.20) rotate(-45)" x="0" y="4.1">Nov-10</text>
<text transform="translate(1171.40,435.20) rotate(-45)" x="0" y="4.1">Nov-11</text>
</g>
<g shape-rendering="crispEdges">
<line x1="175" y1="729.5" x2="184.75" y2="729.5" stroke="#adadad"/>
<line x1="184.75" y1="729.5" x2="585.2" y2="729.5" stroke="#adadad"/>
<line x1="175" y1="698.5" x2="585.2" y2="698.5" stroke="rgba(0,0,0,0.1)"/>
<line x1="175" y1="668.5" x2="585.2" y2="668.5" stroke="rgba(0,0,0,0.1)"/>
<line x1="175" y1="638.5" x2="585.2" y2="638.5" stroke="rgba(0,0,0,0.1)"/>
<line x1="175" y1="608.5" x2="585.2" y2="608.5" stroke="rgba(0,0,0,0.1)"/>
<line x1="175" y1="578.5" x2="585.2" y2="578.5" stroke="rgba(0,0,0,0.1)"/>
<line x1="184.5" y1="578" x2="184.5" y2="740" stroke="#adadad"/>
<line x1="211.5" y1="578" x2="211.5" y2="740" stroke="rgba(0,0,0,0.1)"/>
<line x1="238.5" y1="578" x2="238.5" y2="740" stroke="rgba(0,0,0,0.1)"/>
<line x1="264.5" y1="578" x2="264.5" y2="740" stroke="rgba(0,0,0,0.1)"/>
<line x1="291.5" y1="578" x2="291.5" y2="740" stroke="rgba(0,0,0,0.1)"/>
<line x1="318.5" y1="578" x2="318.5" y2="740" stroke="rgba(0,0,0,0.1)"/>
<line x1="344.5" y1="578" x2="344.5" y2="740" stroke="rgba(0,0,0,0.1)"/>
<line x1="371.5" y1="578" x2="371.5" y2="740" stroke="rgba(0,0,0,0.1)"/>
<line x1="398.5" y1="578" x2="398.5" y2="740" stroke="rgba(0,0,0,0.1)"/>
<line x1="425.5" y1="578" x2="425.5" y2="740" stroke="rgba(0,0,0,0.1)"/>
<line x1="451.5" y1="578" x2="451.5" y2="740" stroke="rgba(0,0,0,0.1)"/>
<line x1="478.5" y1="578" x2="478.5" y2="740" stroke="rgba(0,0,0,0.1)"/>
<line x1="505.5" y1="578" x2="505.5" y2="740" stroke="rgba(0,0,0,0.1)"/>
<line x1="531.5" y1="578" x2="531.5" y2="740" stroke="rgba(0,0,0,0.1)"/>
<line x1="558.5" y1="578" x2="558.5" y2="740" stroke="rgba(0,0,0,0.1)"/>
<line x1="585.5" y1="578" x2="585.5" y2="740" stroke="rgba(0,0,0,0.1)"/>
</g>
<rect x="188.50" y="706.35" width="19.20" height="23.65" fill="#ff9f40"/>
<rect x="268.60" y="694.27" width="19.20" height="35.73" fill="#ff9f40"/>
<rect x="295.30" y="615.75" width="19.20" height="114.25" fill="#ff9f40"/>
<rect x="322.00" y="697.29" width="19.20" height="32.71" fill="#ff9f40"/>
<rect x="348.70" y="605.18" width="19.20" height="124.82" fill="#ff9f40"/>
<rect x="375.40" y="627.83" width="19.20" height="102.17" fill="#ff9f40"/>
<rect x="455.50" y="615.75" width="19.20" height="114.25" fill="#ff9f40"/>
<rect x="482.20" y="686.72" width="19.20" height="43.28" fill="#ff9f40"/>
<rect x="508.90" y="694.27" width="19.20" height="35.73" fill="#ff9f40"/>
<rect x="535.60" y="689.74" width="19.20" height="40.26" fill="#ff9f40"/>
<rect x="562.30" y="617.26" width="19.20" height="112.74" fill="#ff9f40"/>
<g font-size="12" fill="#666" text-anchor="end">
<text x="174.6" y="732.80">0</text>
<text x="174.6" y="702.60">20</text>
<text x="174.6" y="672.40">40</text>
<text x="174.6" y="642.20">60</text>
<text x="174.6" y="612.00">80</text>
<text x="174.6" y="581.80">100</text>
</g>
<g font-size="12" fill="#666" text-anchor="end">
<text transform="translate(197.60,739.20) rotate(-45)" x="0" y="4.1">Oct-28</text>
<text transform="translate(224.30,739.20) rotate(-45)" x="0" y="4.1">Oct-29</text>
<text transform="translate(251.00,739.20) rotate(-45)" x="0" y="4.1">Oct-30</text>
<text transform="translate(277.70,739.20) rotate(-45)" x="0" y="4.1">Oct-31</text>
<text transform="translate(304.40,739.20) rotate(-45)" x="0" y="4.1">Nov-01</text>
<text transform="translate(331.10,739.20) rotate(-45)" x="0" y="4.1">Nov-02</text>
<text transform="translate(357.80,739.20) rotate(-45)" x="0" y="4.1">Nov-03</text>
<text transform="translate(384.50,739.20) rotate(-45)" x="0" y="4.1">Nov-04</text>
<text transform="translate(411.20,739.20) rotate(-45)" x="0" y="4.1">Nov-05</text>
<text transform="translate(437.90,739.20) rotate(-45)" x="0" y="4.1">Nov-06</text>
<text transform="translate(464.60,739.20) rotate(-45)" x="0" y="4.1">Nov-07</text>
<text transform="translate(491.30,739.20) rotate(-45)" x="0" y="4.1">Nov-08</text>
<text transform="translate(518.00,739.20) rotate(-45)" x="0" y="4.1">Nov-09</text>
<text transform="translate(544.70,739.20) rotate(-45)" x="0" y="4.1">Nov-10</text>
<text transform="translate(571.40,739.20) rotate(-45)" x="0" y="4.1">Nov-11</text>
</g>
<g shape-rendering="crispEdges">
<line x1="762" y1="736.5" x2="771.5" y2="736.5" stroke="#adadad"/>
<line x1="771.5" y1="736.5" x2="1185.2" y2="736.5" stroke="#adadad"/>
<line x1="762" y1="657.5" x2="1185.2" y2="657.5" stroke="rgba(0,0,0,0.1)"/>
<line x1="762" y1="579.5" x2="1185.2" y2="579.5" stroke="rgba(0,0,0,0.1)"/>
<line x1="771.5" y1="579" x2="771.5" y2="747" stroke="#adadad"/>
<line x1="783.5" y1="579" x2="783.5" y2="747" stroke="rgba(0,0,0,0.1)"/>
<line x1="795.5" y1="579" x2="795.5" y2="747" stroke="rgba(0,0,0,0.1)"/>
<line x1="808.5" y1="579" x2="808.5" y2="747" stroke="rgba(0,0,0,0.1)"/>
<line x1="820.5" y1="579" x2="820.5" y2="747" stroke="rgba(0,0,0,0.1)"/>
<line x1="832.5" y1="579" x2="832.5" y2="747" stroke="rgba(0,0,0,0.1)"/>
<line x1="844.5" y1="579" x2="844.5" y2="747" stroke="rgba(0,0,0,0.1)"/>
<line x1="856.5" y1="579" x2="856.5" y2="747" stroke="rgba(0,0,0,0.1)"/>
<line x1="868.5" y1="579" x2="868.5" y2="747" stroke="rgba(0,0,0,0.1)"/>
<line x1="881.5" y1="579" x2="881.5" y2="747" stroke="rgba(0,0,0,0.1)"/>
<line x1="893.5" y1="579" x2="893.5" y2="747" stroke="rgba(0,0,0,0.1)"/>
<line x1="905.5" y1="579" x2="905.5" y2="747" stroke="rgba(0,0,0,0.1)"/>
<line x1="917.5" y1="579" x2="917.5" y2="747" stroke="rgba(0,0,0,0.1)"/>
<line x1="929.5" y1="579" x2="929.5" y2="747" stroke="rgba(0,0,0,0.1)"/>
<line x1="941.5" y1="579" x2="941.5" y2="747" stroke="rgba(0,0,0,0.1)"/>
<line x1="954.5" y1="579" x2="954.5" y2="747" stroke="rgba(0,0,0,0.1)"/>
<line x1="966.5" y1="579" x2="966.5" y2="747" stroke="rgba(0,0,0,0.1)"/>
<line x1="978.5" y1="579" x2="978.5" y2="747" stroke="rgba(0,0,0,0.1)"/>
<line x1="990.5" y1="579" x2="990.5" y2="747" stroke="rgba(0,0,0,0.1)"/>
<line x1="1002.5" y1="579" x2="1002.5" y2="747" stroke="rgba(0,0,0,0.1)"/>
<line x1="1015.5" y1="579" x2="1015.5" y2="747" stroke="rgba(0,0,0,0.1)"/>
<line x1="1027.5" y1="579" x2="1027.5" y2="747" stroke="rgba(0,0,0,0.1)"/>
<line x1="1039.5" y1="579" x2="1039.5" y2="747" stroke="rgba(0,0,0,0.1)"/>
<line x1="1051.5" y1="579" x2="1051.5" y2="747" stroke="rgba(0,0,0,0.1)"/>
<line x1="1063.5" y1="579" x2="1063.5" y2="747" stroke="rgba(0,0,0,0.1)"/>
<line x1="1075.5" y1="579" x2="1075.5" y2="747" stroke="rgba(0,0,0,0.1)"/>
<line x1="1088.5" y1="579" x2="1088.5" y2="747" stroke="rgba(0,0,0,0.1)"/>
<line x1="1100.5" y1="579" x2="1100.5" y2="747" stroke="rgba(0,0,0,0.1)"/>
<line x1="1112.5" y1="579" x2="1112.5" y2="747" stroke="rgba(0,0,0,0.1)"/>
<line x1="1124.5" y1="579" x2="1124.5" y2="747" stroke="rgba(0,0,0,0.1)"/>
<line x1="1136.5" y1="579" x2="1136.5" y2="747" stroke="rgba(0,0,0,0.1)"/>
<line x1="1148.5" y1="579" x2="1148.5" y2="747" stroke="rgba(0,0,0,0.1)"/>
<line x1="1161.5" y1="579" x2="1161.5" y2="747" stroke="rgba(0,0,0,0.1)"/>
<line x1="1173.5" y1="579" x2="1173.5" y2="747" stroke="rgba(0,0,0,0.1)"/>
<line x1="1185.5" y1="579" x2="1185.5" y2="747" stroke="rgba(0,0,0,0.1)"/>
</g>
<rect x="773.19" y="658.00" width="8.80" height="79.00" fill="#36a2eb"/>
<rect x="785.36" y="579.50" width="8.80" height="157.50" fill="#36a2eb"/>
<rect x="797.54" y="658.00" width="8.80" height="79.00" fill="#36a2eb"/>
<rect x="809.72" y="658.00" width="8.80" height="79.00" fill="#36a2eb"/>
<rect x="821.89" y="658.00" width="8.80" height="79.00" fill="#36a2eb"/>
<rect x="834.07" y="658.00" width="8.80" height="79.00" fill="#36a2eb"/>
<g font-size="12" fill="#666" text-anchor="end">
<text x="761.6" y="739.80">0</text>
<text x="761.6" y="661.30">1</text>
<text x="761.6" y="582.80">2</text>
</g>
<g font-size="12" fill="#666" text-anchor="end">
<text transform="translate(777.09,746.20) rotate(-45)" x="0" y="4.1">8:00</text>
<text transform="translate(813.62,746.20) rotate(-45)" x="0" y="4.1">8:30</text>
<text transform="translate(850.15,746.20) rotate(-45)" x="0" y="4.1">9:00</text>
<text transform="translate(886.68,746.20) rotate(-45)" x="0" y="4.1">9:30</text>
<text transform="translate(923.21,746.20) rotate(-45)" x="0" y="4.1">10:00</text>
<text transform="translate(959.74,746.20) rotate(-45)" x="0" y="4.1">10:30</text>
<text transform="translate(996.26,746.20) rotate(-45)" x="0" y="4.1">11:00</text>
<text transform="translate(1032.79,746.20) rotate(-45)" x="0" y="4.1">11:30</text>
<text transform="translate(1069.32,746.20) rotate(-45)" x="0" y="4.1">12:00</text>
<text transform="translate(1105.85,746.20) rotate(-45)" x="0" y="4.1">12:30</text>
<text transform="translate(1142.38,746.20) rotate(-45)" x="0" y="4.1">13:00</text>
<text transform="translate(1178.91,746.20) rotate(-45)" x="0" y="4.1">13:30</text>
</g>
</svg>
<div style="position:absolute;left:0;top:813px;width:1241px;height:1px;background:#fff"></div>
</body></html>
